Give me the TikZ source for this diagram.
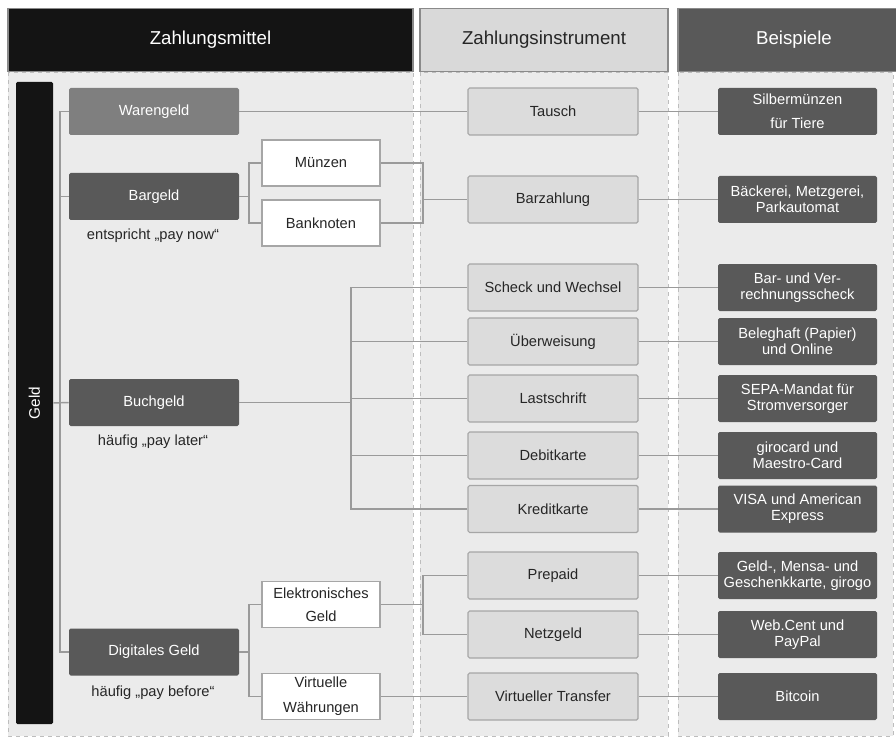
\documentclass[tikz,border=0pt]{standalone}
\usepackage{fontspec}
\setmainfont{Liberation Sans}
\definecolor{colbg}{HTML}{EBEBEB}
\definecolor{colborder}{HTML}{BDBDBD}
\definecolor{hdrline}{HTML}{8A8A8A}
\definecolor{blackhdr}{HTML}{141414}
\definecolor{lighthdr}{HTML}{D9D9D9}
\definecolor{darkbox}{HTML}{595959}
\definecolor{midbox}{HTML}{7F7F7F}
\definecolor{lightbox}{HTML}{DCDCDC}
\definecolor{boxline}{HTML}{A6A6A6}
\definecolor{lineclr}{HTML}{9A9A9A}
\definecolor{txt}{HTML}{262626}
\tikzset{
  colback/.style={fill=colbg, draw=colborder, dashed, line width=0.6pt},
  hdr/.style={draw=hdrline, line width=1.2pt, minimum height=47.25pt,
    inner sep=0pt, font=\fontsize{14}{16}\selectfont},
  lbox/.style={fill=darkbox, text=white, minimum width=127.5pt,
    minimum height=35.25pt, rounded corners=1.2pt, inner sep=1pt,
    font=\fontsize{11}{13}\selectfont},
  wbox/.style={fill=white, draw=boxline, line width=0.9pt, text=txt,
    minimum width=88.5pt, minimum height=34.5pt, inner sep=1pt, align=center,
    font=\fontsize{11}{17.5}\selectfont},
  mbox/.style={fill=lightbox, draw=boxline, line width=0.9pt, text=txt,
    minimum width=127.5pt, minimum height=35.25pt, rounded corners=1.2pt,
    inner sep=1pt, font=\fontsize{11}{13}\selectfont},
  rbox/.style={fill=darkbox, text=white, minimum width=119.25pt,
    minimum height=35.25pt, rounded corners=1.2pt, inner sep=1pt,
    align=center, font=\fontsize{11}{12}\selectfont},
  note/.style={text=txt, font=\fontsize{11}{13}\selectfont},
  conn/.style={draw=lineclr, line width=1.1pt},
}
\begin{document}
\begin{tikzpicture}[x=0.75pt, y=-0.75pt]
  \clip (0,0) rectangle (896,738);
  \fill[white] (0,0) rectangle (896,738);

  % column backgrounds
  \draw[colback] (8,72) rectangle (413,736);
  \draw[colback] (420,72) rectangle (668,736);
  \draw[colback] (678,72) rectangle (893,736);

  % column headers
  \node[hdr, fill=blackhdr, text=white, minimum width=303.75pt] (h1) at (210.5,40) {Zahlungsmittel};
  \node[hdr, fill=lighthdr, text=txt, minimum width=186pt] (h2) at (544,40) {Zahlungsinstrument};
  \node[hdr, fill=darkbox, text=white, minimum width=174pt] (h3) at (794,40) {Beispiele};

  % vertical bar
  \node[fill=blackhdr, text=white, rotate=90, minimum width=481.5pt,
    minimum height=27.75pt, inner sep=0pt, rounded corners=1pt,
    font=\fontsize{11.5}{13}\selectfont] (geld) at (34.5,403) {Geld};

  % kinds of money
  \node[lbox, fill=midbox] (ware) at (154,111.5) {Warengeld};
  \node[lbox] (bar)  at (154,196.5) {Bargeld};
  \node[lbox] (buch) at (154,402.5) {Buchgeld};
  \node[lbox] (digi) at (154,652) {Digitales Geld};

  \node[note] (n1) at (153,236) {entspricht „pay now“};
  \node[note] (n2) at (153,442) {häufig „pay later“};
  \node[note] (n3) at (153,693) {häufig „pay before“};

  \node[wbox] (muenz) at (321,163) {Münzen};
  \node[wbox] (bank)  at (321,223) {Banknoten};
  \node[wbox] (elek)  at (321,604.5) {Elektronisches\\Geld};
  \node[wbox, font=\fontsize{11}{19}\selectfont] (virt) at (321,696.5) {Virtuelle\\Währungen};

  % payment instruments
  \node[mbox] (tausch) at (553,111.5) {Tausch};
  \node[mbox] (barz)   at (553,199.5) {Barzahlung};
  \node[mbox] (scheck) at (553,287.5) {Scheck und Wechsel};
  \node[mbox] (ueber)  at (553,341.5) {Überweisung};
  \node[mbox] (last)   at (553,398.5) {Lastschrift};
  \node[mbox] (debit)  at (553,455.5) {Debitkarte};
  \node[mbox] (kredit) at (553,509)   {Kreditkarte};
  \node[mbox] (prep)   at (553,575.5) {Prepaid};
  \node[mbox] (netz)   at (553,634.5) {Netzgeld};
  \node[mbox] (vtrans) at (553,696.5) {Virtueller Transfer};

  % examples
  \node[rbox, font=\fontsize{11}{18}\selectfont] (e1) at (797.5,111.5) {Silbermünzen\\für Tiere};
  \node[rbox] (e2)  at (797.5,199.5) {Bäckerei, Metzgerei,\\Parkautomat};
  \node[rbox] (e3)  at (797.5,287.5) {Bar- und Ver-\\rechnungsscheck};
  \node[rbox] (e4)  at (797.5,341.5) {Beleghaft (Papier)\\und Online};
  \node[rbox] (e5)  at (797.5,398.5) {SEPA-Mandat für\\Stromversorger};
  \node[rbox] (e6)  at (797.5,455.5) {girocard und\\Maestro-Card};
  \node[rbox] (e7)  at (797.5,509)   {VISA und American\\Express};
  \node[rbox] (e8)  at (797.5,575.5) {Geld-, Mensa- und\\Geschenkkarte, girogo};
  \node[rbox] (e9)  at (797.5,634.5) {Web.Cent und\\PayPal};
  \node[rbox] (e10) at (797.5,696.5) {Bitcoin};

  % junction columns
  \coordinate (jl) at (60,0);
  \coordinate (jb) at (249,0);
  \coordinate (jm) at (423,0);
  \coordinate (jc) at (351,0);

  % connectors: Geld
  \draw[conn] (ware.west) -- (jl |- ware.west) -- (jl |- digi.west) -- (digi.west);
  \draw[conn] (bar.west) -- (jl |- bar.west);
  \draw[conn] (geld.south) -- (buch.west);

  % Warengeld
  \draw[conn] (ware.east) -- (tausch.west);

  % Bargeld
  \draw[conn] (bar.east) -- (jb |- bar.east);
  \draw[conn] (muenz.west) -| (jb |- bank.west) -- (bank.west);
  \draw[conn] (muenz.east) -| (jm |- bank.east) -- (bank.east);
  \draw[conn] (jm |- barz.west) -- (barz.west);

  % Buchgeld
  \draw[conn] (buch.east) -- (jc |- buch.east);
  \draw[conn] (scheck.west) -| (jc |- kredit.west) -- (kredit.west);
  \draw[conn] (ueber.west) -- (jc |- ueber.west);
  \draw[conn] (last.west) -- (jc |- last.west);
  \draw[conn] (debit.west) -- (jc |- debit.west);

  % Digitales Geld
  \draw[conn] (digi.east) -- (jb |- digi.east);
  \draw[conn] (elek.west) -| (jb |- virt.west) -- (virt.west);
  \draw[conn] (elek.east) -- (jm |- elek.east);
  \draw[conn] (prep.west) -| (jm |- netz.west) -- (netz.west);
  \draw[conn] (virt.east) -- (vtrans.west);

  % instruments to examples
  \draw[conn] (tausch.east) -- (e1.west);
  \draw[conn] (barz.east) -- (e2.west);
  \draw[conn] (scheck.east) -- (e3.west);
  \draw[conn] (ueber.east) -- (e4.west);
  \draw[conn] (last.east) -- (e5.west);
  \draw[conn] (debit.east) -- (e6.west);
  \draw[conn] (kredit.east) -- (e7.west);
  \draw[conn] (prep.east) -- (e8.west);
  \draw[conn] (netz.east) -- (e9.west);
  \draw[conn] (vtrans.east) -- (e10.west);
\end{tikzpicture}
\end{document}
